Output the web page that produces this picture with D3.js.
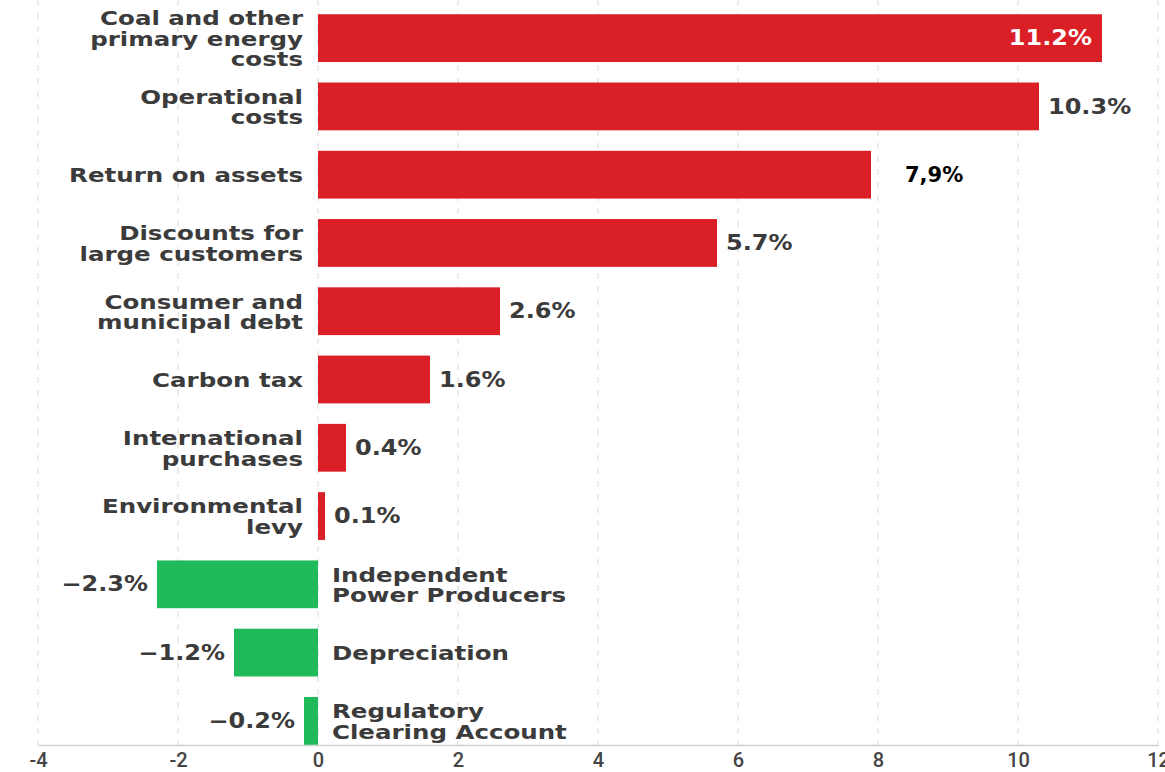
<!DOCTYPE html>
<html>
<head>
<meta charset="utf-8">
<script src="https://cdn.jsdelivr.net/npm/d3@7"></script>
<style>
  html, body { margin: 0; padding: 0; background: #fff; }
  svg { display: block; }
</style>
</head>
<body>
<svg id="chart" width="1165" height="772"></svg>
<script>
// Contributors to the tariff change, percentage points
const categories = [
  ["Coal and other", "primary energy", "costs"],
  ["Operational", "costs"],
  ["Return on assets"],
  ["Discounts for", "large customers"],
  ["Consumer and", "municipal debt"],
  ["Carbon tax"],
  ["International", "purchases"],
  ["Environmental", "levy"],
  ["Independent", "Power Producers"],
  ["Depreciation"],
  ["Regulatory", "Clearing Account"]
];
const values = [11.2, 10.3, 7.9, 5.7, 2.6, 1.6, 0.4, 0.1, -2.3, -1.2, -0.2];
const valueLabels = ["11.2%", "10.3%", "7,9%", "5.7%", "2.6%", "1.6%", "0.4%", "0.1%", "\u22122.3%", "\u22121.2%", "\u22120.2%"];
const tickValues = [-4, -2, 0, 2, 4, 6, 8, 10, 12];

const svg = d3.select("#chart");
const FONT = "'DejaVu Sans', sans-serif";
const RED = "#da1f26", GREEN = "#21ba5b", TEXT = "#3b3b3b";
const CAT_STRETCH = 1.29, VAL_STRETCH = 1.17;

const x = d3.scaleLinear().domain([-4, 12]).range([38, 1158]);
const y = d3.scaleBand().domain(d3.range(values.length)).range([4, 755])
  .paddingInner(0.3).paddingOuter(0.15);
const axisY = 745;

// dashed vertical grid
svg.append("g").selectAll("line").data(tickValues).join("line")
  .attr("x1", d => x(d)).attr("x2", d => x(d))
  .attr("y1", 0).attr("y2", axisY)
  .attr("stroke", "#dedede").attr("stroke-width", 1.2)
  .attr("stroke-dasharray", "6,7");

// bottom axis
const axis = d3.axisBottom(x).tickValues(tickValues).tickFormat(d => String(d)).tickSize(0).tickPadding(8);
const ax = svg.append("g").attr("transform", `translate(0,${axisY})`).call(axis);
ax.select(".domain").attr("stroke", "#d0d0d0").attr("stroke-width", 1.5);
ax.selectAll("text").attr("fill", "#444").style("font-family", "'Roboto', sans-serif")
  .style("font-size", "20px").style("font-weight", 500);

// bars
svg.append("g").selectAll("rect").data(values).join("rect")
  .attr("x", d => x(Math.min(0, d)))
  .attr("width", d => Math.abs(x(d) - x(0)))
  .attr("y", (d, i) => y(i))
  .attr("height", y.bandwidth())
  .attr("fill", d => d >= 0 ? RED : GREEN);

// horizontally widened text placed at (px, py)
function wideText(parent, px, py, stretch, anchor) {
  return parent.append("g")
    .attr("transform", `translate(${px},${py}) scale(${stretch},1)`)
    .append("text").attr("text-anchor", anchor);
}

// category labels: left of zero for increases, right of zero for reductions
const catG = svg.append("g").style("font-family", FONT).style("font-weight", "bold")
  .style("font-size", "19px").attr("fill", TEXT);
const lh = 20.5;
values.forEach((v, i) => {
  const lines = categories[i];
  const cy = y(i) + y.bandwidth() / 2;
  const t = wideText(catG, v >= 0 ? x(0) - 15 : x(0) + 14, cy, CAT_STRETCH, v >= 0 ? "end" : "start");
  lines.forEach((ln, k) => {
    t.append("tspan")
      .attr("x", 0)
      .attr("y", (k - (lines.length - 1) / 2) * lh)
      .attr("dy", "0.4em")
      .text(ln);
  });
});

// value labels
const valG = svg.append("g").style("font-family", FONT).style("font-weight", "bold").style("font-size", "20.5px");
values.forEach((v, i) => {
  const cy = y(i) + y.bandwidth() / 2;
  if (i === 2) {
    valG.append("text").attr("x", x(v) + 34).attr("y", cy).attr("dy", "0.36em")
      .attr("fill", "#000").style("font-size", "21px").style("font-weight", 900)
      .text(valueLabels[i]);
    return;
  }
  let t;
  if (i === 0) {
    t = wideText(valG, x(v) - 10, cy, VAL_STRETCH, "end").attr("fill", "#fff");
  } else if (v >= 0) {
    t = wideText(valG, x(v) + 9, cy, VAL_STRETCH, "start").attr("fill", TEXT);
  } else {
    t = wideText(valG, x(v) - 9, cy, VAL_STRETCH, "end").attr("fill", TEXT);
  }
  t.attr("dy", "0.35em").text(valueLabels[i]);
});
</script>
</body>
</html>
